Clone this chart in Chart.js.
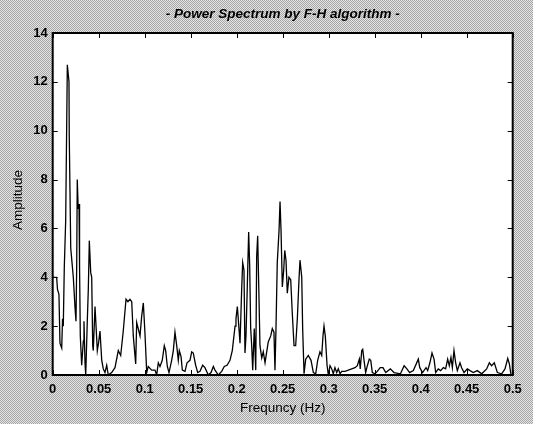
<!DOCTYPE html>
<html>
<head>
<meta charset="utf-8">
<title>Power Spectrum by F-H algorithm</title>
<script src="https://cdn.jsdelivr.net/npm/chart.js@4.4.1/dist/chart.umd.min.js"></script>
<style>
  html, body { margin: 0; padding: 0; background: #c6c6c6; }
  #spectrum { display: block; }
</style>
</head>
<body>
<canvas id="spectrum" width="533" height="424"></canvas>
<script>
// frequency (Hz) and amplitude
const freq = [
  0.0000, 0.0043, 0.0052, 0.0068, 0.0079, 0.0098, 0.0107, 0.0115, 0.0126, 0.0141,
  0.0159, 0.0177, 0.0180, 0.0196, 0.0210, 0.0224, 0.0242, 0.0253, 0.0261, 0.0267,
  0.0277, 0.0286, 0.0292, 0.0300, 0.0315, 0.0333, 0.0340, 0.0351, 0.0359, 0.0376,
  0.0387, 0.0398, 0.0413, 0.0424, 0.0435, 0.0441, 0.0460, 0.0467, 0.0485, 0.0498,
  0.0514, 0.0533, 0.0550, 0.0568, 0.0587, 0.0604, 0.0641, 0.0677, 0.0713, 0.0739,
  0.0767, 0.0797, 0.0818, 0.0840, 0.0859, 0.0876, 0.0902, 0.0913, 0.0930, 0.0949,
  0.0967, 0.0985, 0.1003, 0.1022, 0.1039, 0.1076, 0.1112, 0.1130, 0.1148, 0.1166,
  0.1191, 0.1213, 0.1228, 0.1246, 0.1264, 0.1293, 0.1311, 0.1329, 0.1348, 0.1365,
  0.1376, 0.1395, 0.1409, 0.1438, 0.1460, 0.1492, 0.1511, 0.1528, 0.1554, 0.1576,
  0.1601, 0.1630, 0.1655, 0.1691, 0.1721, 0.1746, 0.1764, 0.1800, 0.1837, 0.1865,
  0.1895, 0.1927, 0.1952, 0.1982, 0.1992, 0.2007, 0.2017, 0.2036, 0.2054, 0.2065,
  0.2079, 0.2090, 0.2101, 0.2115, 0.2130, 0.2141, 0.2152, 0.2163, 0.2174, 0.2191,
  0.2207, 0.2217, 0.2228, 0.2242, 0.2253, 0.2272, 0.2289, 0.2308, 0.2326, 0.2343,
  0.2370, 0.2387, 0.2405, 0.2416, 0.2427, 0.2441, 0.2460, 0.2471, 0.2482, 0.2496,
  0.2511, 0.2522, 0.2536, 0.2550, 0.2568, 0.2587, 0.2604, 0.2623, 0.2641, 0.2659,
  0.2677, 0.2688, 0.2707, 0.2717, 0.2732, 0.2750, 0.2778, 0.2808, 0.2833, 0.2859,
  0.2880, 0.2905, 0.2924, 0.2938, 0.2949, 0.2963, 0.2982, 0.2996, 0.3014, 0.3033,
  0.3050, 0.3068, 0.3087, 0.3104, 0.3123, 0.3141, 0.3177, 0.3213, 0.3250, 0.3286,
  0.3311, 0.3333, 0.3343, 0.3359, 0.3370, 0.3384, 0.3402, 0.3420, 0.3441, 0.3457,
  0.3474, 0.3503, 0.3528, 0.3560, 0.3590, 0.3620, 0.3670, 0.3710, 0.3780, 0.3820,
  0.3850, 0.3880, 0.3920, 0.3974, 0.3990, 0.4020, 0.4058, 0.4076, 0.4100, 0.4123,
  0.4145, 0.4163, 0.4191, 0.4217, 0.4246, 0.4271, 0.4293, 0.4311, 0.4329, 0.4344,
  0.4362, 0.4380, 0.4398, 0.4427, 0.4445, 0.4471, 0.4507, 0.4536, 0.4572, 0.4615,
  0.4663, 0.4717, 0.4746, 0.4771, 0.4800, 0.4833, 0.4880, 0.4916, 0.4946, 0.4964,
  0.4982, 0.5000
];
const amplitude = [
  4.0, 4.0, 3.5, 3.3, 1.3, 1.1, 2.3, 2.0, 4.4, 6.3,
  12.7, 12.0, 9.8, 5.2, 4.6, 4.0, 2.8, 2.2, 4.5, 8.0,
  6.8, 7.0, 4.4, 1.6, 0.4, 1.4, 2.2, 0.5, 0.0, 2.2,
  3.5, 5.5, 4.2, 4.0, 1.2, 1.0, 2.8, 2.8, 1.0, 1.3,
  1.8, 0.6, 0.25, 0.1, 0.4, 0.0, 0.1, 0.3, 1.0, 0.8,
  1.8, 3.1, 3.0, 3.1, 3.0, 1.6, 0.45, 2.15, 1.9, 1.6,
  2.4, 2.95, 1.7, 0.1, 0.35, 0.2, 0.2, 0.0, 0.5, 0.35,
  0.6, 1.2, 1.0, 0.35, 0.1, 0.6, 1.0, 1.75, 1.2, 0.6,
  1.0, 0.75, 0.2, 0.15, 0.5, 0.6, 0.95, 0.9, 0.4, 0.1,
  0.15, 0.4, 0.3, 0.0, 0.1, 0.35, 0.2, 0.0, 0.15, 0.35,
  0.4, 0.6, 1.0, 2.0, 2.3, 2.8, 2.3, 1.3, 3.5, 4.6,
  4.3, 0.9, 1.6, 3.6, 5.85, 4.5, 1.9, 1.2, 0.2, 1.9,
  0.2, 4.85, 5.7, 3.2, 1.2, 0.7, 0.95, 0.5, 0.95, 1.35,
  1.6, 1.9, 1.75, 0.2, 1.9, 4.6, 5.9, 7.1, 5.9, 3.6,
  4.3, 5.1, 4.7, 3.35, 4.0, 3.9, 2.55, 1.2, 1.2, 2.3,
  3.9, 4.7, 4.0, 1.9, 0.05, 0.65, 0.8, 0.6, 0.1, 0.05,
  0.6, 0.95, 0.8, 1.6, 2.0, 1.6, 0.4, 0.0, 0.38, 0.25,
  0.05, 0.3, 0.1, 0.25, 0.05, 0.15, 0.15, 0.2, 0.25, 0.3,
  0.38, 0.65, 0.25, 1.0, 1.05, 0.6, 0.1, 0.38, 0.65, 0.6,
  0.1, 0.05, 0.15, 0.3, 0.3, 0.1, 0.25, 0.1, 0.05, 0.38,
  0.25, 0.1, 0.18, 0.65, 0.3, 0.1, 0.3, 0.18, 0.5, 0.9,
  0.65, 0.1, 0.25, 0.18, 0.3, 0.25, 0.65, 0.38, 0.72, 0.3,
  1.0, 0.5, 0.18, 0.5, 0.3, 0.1, 0.25, 0.18, 0.1, 0.18,
  0.05, 0.25, 0.5, 0.38, 0.5, 0.1, 0.05, 0.25, 0.68, 0.45,
  0.0, 0.0
];

const xTickValues = [0, 0.05, 0.1, 0.15, 0.2, 0.25, 0.3, 0.35, 0.4, 0.45, 0.5];
const xTickLabels = ['0', '0.05', '0.1', '0.15', '0.2', '0.25', '0.3', '0.35', '0.4', '0.45', '0.5'];
const yTickValues = [0, 2, 4, 6, 8, 10, 12, 14];
const yTickLabels = ['0', '2', '4', '6', '8', '10', '12', '14'];

const titleText = '- Power Spectrum by F-H algorithm -';
const xTitle = 'Frequncy (Hz)';
const yTitle = 'Amplitude';

Chart.defaults.font.family = "'Liberation Sans', Arial, sans-serif";
Chart.defaults.color = '#000';

// grey dither like the scanned figure background
function ditherPattern(ctx) {
	const c = document.createElement('canvas');
	c.width = 2;
	c.height = 2;
	const g = c.getContext('2d');
	g.fillStyle = '#e6e6e6';
	g.fillRect(0, 0, 2, 2);
	g.fillStyle = '#a4a4a4';
	g.fillRect(0, 0, 1, 1);
	g.fillRect(1, 1, 1, 1);
	return ctx.createPattern(c, 'repeat');
}

// matlab style box: inward ticks on all four sides, titles
const matlabFrame = {
	id: 'matlabFrame',
	beforeDraw(chart) {
		const { ctx, chartArea: a, width, height } = chart;
		ctx.save();
		ctx.fillStyle = ditherPattern(ctx);
		ctx.fillRect(0, 0, width, height);
		ctx.fillStyle = '#fff';
		ctx.fillRect(a.left, a.top, a.right - a.left, a.bottom - a.top);
		ctx.restore();
	},
	afterDatasetsDraw(chart) {
		const { ctx, chartArea: a, scales: { x, y } } = chart;
		const len = 5;
		ctx.save();
		ctx.strokeStyle = '#000';
		ctx.lineWidth = 1;
		ctx.beginPath();
		x.ticks.forEach(t => {
			const px = Math.round(x.getPixelForValue(t.value)) + 0.5;
			ctx.moveTo(px, a.bottom); ctx.lineTo(px, a.bottom - len);
			ctx.moveTo(px, a.top); ctx.lineTo(px, a.top + len);
		});
		y.ticks.forEach(t => {
			const py = Math.round(y.getPixelForValue(t.value)) + 0.5;
			ctx.moveTo(a.left, py); ctx.lineTo(a.left + len, py);
			ctx.moveTo(a.right, py); ctx.lineTo(a.right - len, py);
		});
		ctx.stroke();

		ctx.lineWidth = 2;
		ctx.strokeRect(a.left, a.top, a.right - a.left, a.bottom - a.top);

		const cx = (a.left + a.right) / 2;
		ctx.fillStyle = '#000';
		ctx.textAlign = 'center';
		ctx.textBaseline = 'middle';
		ctx.font = "italic bold 13.5px 'Liberation Sans', Arial, sans-serif";
		ctx.fillText(titleText, cx, 14);

		ctx.font = "13.5px 'Liberation Sans', Arial, sans-serif";
		ctx.fillText(xTitle, cx, 408);

		ctx.translate(18, (a.top + a.bottom) / 2 - 4);
		ctx.rotate(-Math.PI / 2);
		ctx.fillText(yTitle, 0, 0);
		ctx.restore();
	}
};

new Chart(document.getElementById('spectrum').getContext('2d'), {
	type: 'line',
	data: {
		datasets: [{
			data: freq.map((f, i) => ({ x: f, y: amplitude[i] })),
			borderColor: '#000',
			borderWidth: 1.3,
			pointRadius: 0,
			tension: 0,
			fill: false,
		}]
	},
	options: {
		responsive: false,
		animation: false,
		devicePixelRatio: 1,
		layout: {
			padding: { top: 33, right: 20.3, bottom: 0, left: 0 },
		},
		scales: {
			x: {
				type: 'linear',
				min: 0,
				max: 0.5,
				afterBuildTicks: s => { s.ticks = xTickValues.map(v => ({ value: v })); },
				afterFit: s => { s.height = 49; },
				grid: { display: false, drawTicks: false },
				border: { display: false },
				ticks: {
					padding: 7,
					maxRotation: 0,
					autoSkip: false,
					font: { size: 13, weight: 'bold' },
					callback: (v, i) => xTickLabels[i],
				},
			},
			y: {
				min: 0,
				max: 14,
				afterBuildTicks: s => { s.ticks = yTickValues.map(v => ({ value: v })); },
				afterFit: s => { s.width = 52.7; },
				grid: { display: false, drawTicks: false },
				border: { display: false },
				ticks: {
					padding: 5,
					autoSkip: false,
					font: { size: 13, weight: 'bold' },
					callback: (v, i) => yTickLabels[i],
				},
			},
		},
		plugins: {
			legend: { display: false },
			tooltip: { enabled: false },
		},
	},
	plugins: [matlabFrame],
});
</script>
</body>
</html>
